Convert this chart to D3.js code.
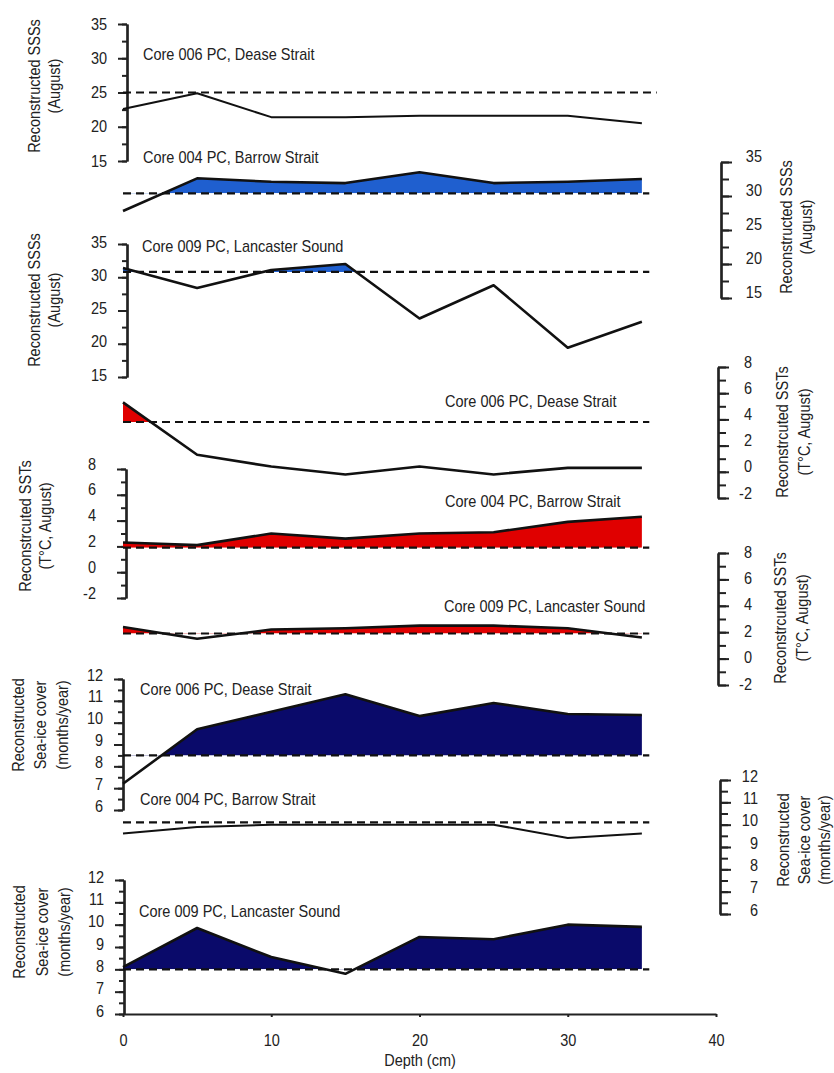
<!DOCTYPE html>
<html>
<head>
<meta charset="utf-8">
<script src="https://cdn.jsdelivr.net/npm/d3@7"></script>
<style>
  body { margin: 0; background: #fff; }
  text { font-family: "Liberation Sans", Arial, sans-serif; fill: #222; }
</style>
</head>
<body>
<div id="chart"></div>
<script>
// depth of samples (cm)
const depth = [0, 5, 10, 15, 20, 25, 30, 35];
const depthTicks = [0, 10, 20, 30, 40];
const cores = ["Core 006 PC, Dease Strait", "Core 004 PC, Barrow Strait", "Core 009 PC, Lancaster Sound"];

// reconstructed SSS (August)
const sss006 = [22.6, 24.9, 21.4, 21.4, 21.6, 21.6, 21.6, 20.5];
const sss004 = [27.8, 32.6, 32.1, 31.9, 33.5, 31.9, 32.1, 32.5];
const sss009 = [31.4, 28.4, 31.1, 32.0, 23.8, 28.8, 19.4, 23.3];
const sssModern = [25, 30.4, 30.8];
const sssTicks = [15, 20, 25, 30, 35];

// reconstructed SST (°C, August)
const sst006 = [5.3, 1.3, 0.4, -0.2, 0.4, -0.2, 0.3, 0.3];
const sst004 = [2.3, 2.1, 3.0, 2.6, 3.0, 3.1, 3.9, 4.3];
const sst009 = [2.4, 1.5, 2.2, 2.3, 2.5, 2.5, 2.3, 1.6];
const sstModern = [3.8, 1.9, 1.9];
const sstTicks = [-2, 0, 2, 4, 6, 8];

// reconstructed sea-ice cover (months/year)
const ice006 = [7.2, 9.7, 10.5, 11.3, 10.3, 10.9, 10.4, 10.35];
const ice004 = [9.6, 9.9, 10.0, 10.0, 10.0, 10.0, 9.4, 9.6];
const ice009 = [8.1, 9.85, 8.55, 7.8, 9.45, 9.35, 10.0, 9.9];
const iceModern = [8.5, 10.1, 8.0];
const iceTicks = [6, 7, 8, 9, 10, 11, 12];

const width = 834, height = 1073;
const blue = "#1f5fcf", red = "#e00000", navy = "#0a0a6a";
const fontSize = "14.5px", stretch = 1.1;

const svg = d3.select("#chart").append("svg")
  .attr("width", width).attr("height", height);

const x = d3.scaleLinear().domain([0, 40]).range([123, 716]);

// one vertical axis per stacked panel
const axes = {
  sssL1: { side: "left", ax: 127, range: [161, 24], domain: [15, 35], ticks: sssTicks, step: 2.5, pad: 20, dy: 0,
           title: ["Reconstructed SSSs", "(August)"], tx: [35, 55], ty: 86 },
  sssR:  { side: "right", ax: 721, range: [298, 162], domain: [15, 35], ticks: sssTicks, step: 2.5, end: 41, dy: -6,
           title: ["Reconstructed SSSs", "(August)"], tx: [787, 807], ty: 227 },
  sssL2: { side: "left", ax: 127, range: [377, 244], domain: [15, 35], ticks: sssTicks, step: 2.5, pad: 20, dy: -2,
           title: ["Reconstructed SSSs", "(August)"], tx: [35, 55], ty: 300 },
  sstR1: { side: "right", ax: 718, range: [498, 367], domain: [-2, 8], ticks: sstTicks, step: 1, end: 34, dy: -5,
           title: ["Reconstrcuted SSTs", "(T\u00b0C, August)"], tx: [783, 805], ty: 432 },
  sstL:  { side: "left", ax: 126, range: [598, 469], domain: [-2, 8], ticks: sstTicks, step: 1, pad: 30, dy: -5,
           title: ["Reconstrcuted SSTs", "(T\u00b0C, August)"], tx: [26, 46], ty: 526 },
  sstR2: { side: "right", ax: 718, range: [685, 553], domain: [-2, 8], ticks: sstTicks, step: 1, end: 34, dy: -1,
           title: ["Reconstrcuted SSTs", "(T\u00b0C, August)"], tx: [781, 803], ty: 618 },
  iceL1: { side: "left", ax: 123, range: [810, 679], domain: [6, 12], ticks: iceTicks, step: 0.5, pad: 20, dy: -4,
           title: ["Reconstructed", "Sea-ice cover", "(months/year)"], tx: [19, 41, 63], ty: 725 },
  iceR:  { side: "right", ax: 720, range: [914, 780], domain: [6, 12], ticks: iceTicks, step: 0.5, end: 38, dy: -4,
           title: ["Reconstructed", "Sea-ice cover", "(months/year)"], tx: [784, 805, 825], ty: 840 },
  iceL2: { side: "left", ax: 124, range: [1014, 880], domain: [6, 12], ticks: iceTicks, step: 0.5, pad: 20, dy: -3,
           title: ["Reconstructed", "Sea-ice cover", "(months/year)"], tx: [20, 43, 65], ty: 932 }
};

const panels = [
  { axis: "sssL1", values: sss006, modern: sssModern[0], fill: null, label: cores[0], lx: 143, ly: 60, dashTo: 36 },
  { axis: "sssR",  values: sss004, modern: sssModern[1], fill: blue, label: cores[1], lx: 143, ly: 163, dashTo: 35.5 },
  { axis: "sssL2", values: sss009, modern: sssModern[2], fill: blue, label: cores[2], lx: 142, ly: 252, dashTo: 35.5 },
  { axis: "sstR1", values: sst006, modern: sstModern[0], fill: red,  label: cores[0], lx: 445, ly: 407, dashTo: 35.5 },
  { axis: "sstL",  values: sst004, modern: sstModern[1], fill: red,  label: cores[1], lx: 445, ly: 507, dashTo: 35.5 },
  { axis: "sstR2", values: sst009, modern: sstModern[2], fill: red,  label: cores[2], lx: 444, ly: 612, dashTo: 35.5 },
  { axis: "iceL1", values: ice006, modern: iceModern[0], fill: navy, label: cores[0], lx: 140, ly: 695, dashTo: 35.5 },
  { axis: "iceR",  values: ice004, modern: iceModern[1], fill: null, label: cores[1], lx: 140, ly: 805, dashTo: 35.5 },
  { axis: "iceL2", values: ice009, modern: iceModern[2], fill: navy, label: cores[2], lx: 139, ly: 917, dashTo: 35.5 }
];

// build the y scales
Object.values(axes).forEach(a => {
  a.y = d3.scaleLinear().domain(a.domain).range(a.range);
});

//draw the vertical axes
Object.values(axes).forEach(a => {
  const minor = d3.range(a.domain[0], a.domain[1] + 0.001, a.step);
  const g = svg.append("g").attr("transform", "translate(" + a.ax + ",0)");
  if (a.side == "left") {
    g.append("g").call(d3.axisLeft(a.y).tickValues(minor).tickFormat("").tickSize(5).tickSizeOuter(0));
    g.append("g").call(d3.axisLeft(a.y).tickValues(a.ticks).tickFormat(d => d).tickSize(9).tickSizeOuter(0).tickPadding(a.pad - 9));
  } else {
    g.append("g").call(d3.axisRight(a.y).tickValues(minor).tickFormat("").tickSize(8).tickSizeOuter(0));
    g.append("g").call(d3.axisRight(a.y).tickValues(a.ticks).tickFormat(d => d).tickSize(11).tickSizeOuter(0))
      .selectAll("text").attr("x", a.end).attr("text-anchor", "end");
  }
  g.selectAll(".domain").attr("stroke", "#222").attr("stroke-width", 2.2);
  g.selectAll(".tick line").attr("stroke", "#222").attr("stroke-width", 2);
  g.selectAll(".tick text").style("font-size", fontSize).attr("fill", "#222")
    .attr("transform", "translate(0," + a.dy + ") scale(1," + stretch + ")");

  // axis title
  a.title.forEach((t, i) => {
    svg.append("text")
      .text(t)
      .attr("transform", "translate(" + (a.tx[i] + 5) + "," + a.ty + ") rotate(-90) scale(1," + stretch + ")")
      .attr("text-anchor", "middle")
      .style("font-size", fontSize);
  });
});

//draw each core series
panels.forEach((p, k) => {
  const y = axes[p.axis].y;
  const pts = depth.map((d, i) => ({ depth: d, v: p.values[i] }));
  const yBase = y(p.modern);

  if (p.fill) {
    // fill only where the reconstruction is above the modern value
    svg.append("clipPath").attr("id", "clip" + k)
      .append("rect").attr("x", 0).attr("y", 0).attr("width", width).attr("height", yBase);
    svg.append("path")
      .datum(pts)
      .attr("d", d3.area().x(d => x(d.depth)).y0(yBase).y1(d => y(d.v)))
      .attr("fill", p.fill)
      .attr("clip-path", "url(#clip" + k + ")");
  }

  svg.append("line")
    .attr("x1", x(0)).attr("x2", x(p.dashTo))
    .attr("y1", yBase).attr("y2", yBase)
    .attr("stroke", "#111")
    .attr("stroke-width", 2.2)
    .style("stroke-dasharray", "8,5");

  svg.append("path")
    .datum(pts)
    .attr("d", d3.line().x(d => x(d.depth)).y(d => y(d.v)))
    .attr("fill", "none")
    .attr("stroke", "#111")
    .attr("stroke-width", p.fill ? 2.6 : 2)
    .attr("stroke-linejoin", "round");

  svg.append("text")
    .text(p.label)
    .attr("transform", "translate(" + p.lx + "," + p.ly + ") scale(1," + stretch + ")")
    .style("font-size", fontSize);
});

//x axis at the bottom
const gx = svg.append("g").attr("transform", "translate(0,1014)")
  .call(d3.axisBottom(x).tickValues(depthTicks).tickSize(3).tickSizeOuter(0).tickPadding(16));
gx.select(".domain").attr("stroke", "#222").attr("stroke-width", 2);
gx.selectAll(".tick line").attr("stroke", "#222").attr("stroke-width", 2);
gx.selectAll(".tick text").style("font-size", fontSize).attr("fill", "#222")
  .attr("transform", "scale(1," + stretch + ")");

svg.append("text")
  .text("Depth (cm)")
  .attr("transform", "translate(420,1066) scale(1," + stretch + ")")
  .attr("text-anchor", "middle")
  .style("font-size", fontSize);
</script>
</body>
</html>
